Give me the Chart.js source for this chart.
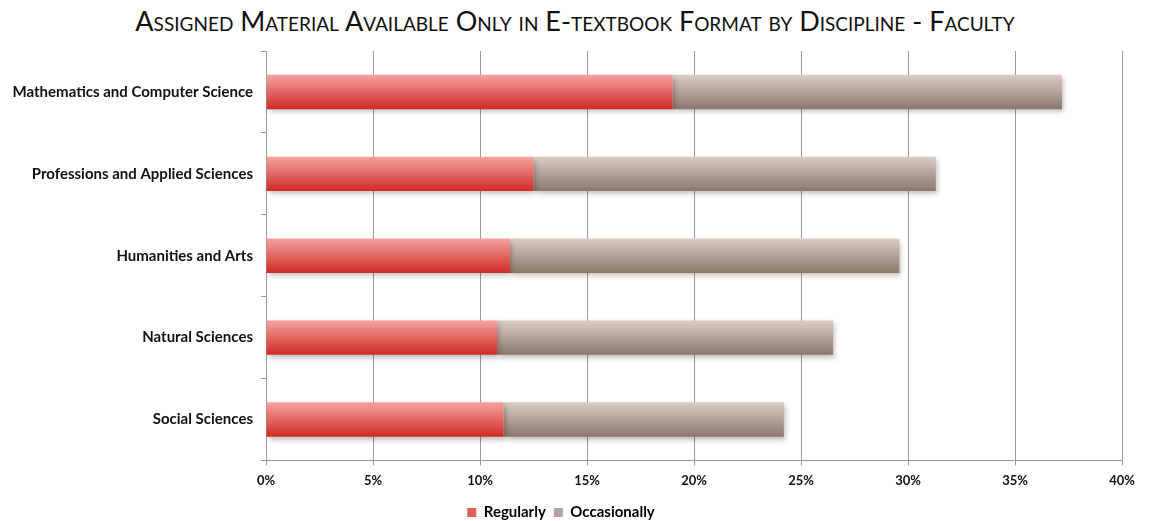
<!DOCTYPE html>
<html>
<head>
<meta charset="utf-8">
<script src="https://cdn.jsdelivr.net/npm/chart.js@4.4.1/dist/chart.umd.min.js"></script>
<style>
  html, body { margin: 0; padding: 0; background: #fff; }
  #wrap { position: relative; width: 1150px; height: 521px; overflow: hidden; }
  #titulo {
    position: absolute; left: 0; top: 4px; width: 1150px; text-align: center;
    font-family: Lato, sans-serif; font-variant: small-caps; font-size: 27px;
    color: #111; letter-spacing: 0px;
  }
  canvas { position: absolute; left: 0; top: 0; }
</style>
</head>
<body>
<div id="wrap">
  <div id="titulo">Assigned Material Available Only in E-textbook Format by Discipline - Faculty</div>
  <canvas id="chart" width="1150" height="521"></canvas>
</div>
<script>
const categorias = [
  'Mathematics and Computer Science',
  'Professions and Applied Sciences',
  'Humanities and Arts',
  'Natural Sciences',
  'Social Sciences'
];
const regularmente = [19.0, 12.5, 11.4, 10.8, 11.1];
const ocasionalmente = [18.2, 18.8, 18.2, 15.7, 13.1];
const ticksX = [0, 5, 10, 15, 20, 25, 30, 35, 40];

const fuente = 'Lato, sans-serif';

function degradado(arriba, abajo) {
  return (c) => {
    const chart = c.chart;
    const y = chart.scales.y;
    if (!y || !chart.chartArea) return abajo;
    const centro = y.getPixelForValue(c.dataIndex);
    const alto = (y.height / categorias.length) * 0.42;
    const g = chart.ctx.createLinearGradient(0, centro - alto / 2, 0, centro + alto / 2);
    g.addColorStop(0, arriba);
    g.addColorStop(1, abajo);
    return g;
  };
}

const sombra = {
  id: 'sombra',
  beforeDatasetsDraw(chart) {
    const ctx = chart.ctx;
    ctx.save();
    ctx.shadowColor = 'rgba(0,0,0,0.25)';
    ctx.shadowBlur = 5;
    ctx.shadowOffsetX = 2;
    ctx.shadowOffsetY = 3;
  },
  afterDatasetsDraw(chart) {
    chart.ctx.restore();
  }
};

new Chart(document.getElementById('chart'), {
  type: 'bar',
  data: {
    labels: categorias,
    datasets: [
      {
        label: 'Regularly',
        data: regularmente,
        backgroundColor: degradado('#f5a3a1', '#d02a24'),
        categoryPercentage: 1,
        barPercentage: 0.42
      },
      {
        label: 'Occasionally',
        data: ocasionalmente,
        backgroundColor: degradado('#dacdc7', '#8c776b'),
        categoryPercentage: 1,
        barPercentage: 0.42
      }
    ]
  },
  options: {
    indexAxis: 'y',
    responsive: false,
    animation: false,
    layout: { padding: { top: 51, right: 28, left: 0, bottom: -9 } },
    scales: {
      x: {
        stacked: true,
        min: 0,
        max: 40,
        afterBuildTicks: (s) => { s.ticks = ticksX.map((v) => ({ value: v })); },
        ticks: {
          callback: (v) => v + '%',
          color: '#111',
          font: { family: fuente, size: 13, weight: 'bold' },
          padding: 8
        },
        grid: { color: '#9a9a9a', lineWidth: 1, tickLength: 5 },
        border: { color: '#9a9a9a' }
      },
      y: {
        stacked: true,
        afterFit: (s) => { s.width = 266; },
        ticks: {
          color: '#111',
          font: { family: fuente, size: 15, weight: 'bold' },
          padding: 8
        },
        grid: { drawOnChartArea: false, color: '#9a9a9a', tickLength: 5 },
        border: { color: '#9a9a9a' }
      }
    },
    plugins: {
      legend: {
        position: 'bottom',
        labels: {
          boxWidth: 9,
          boxHeight: 9,
          color: '#111',
          font: { family: fuente, size: 15, weight: 'bold' },
          padding: 8,
          generateLabels: (chart) => chart.data.datasets.map((d, i) => ({
            text: d.label,
            fillStyle: i === 0 ? '#e0605a' : '#b3a39b',
            strokeStyle: 'rgba(0,0,0,0)',
            lineWidth: 0,
            datasetIndex: i
          }))
        }
      },
      tooltip: { enabled: false }
    }
  },
  plugins: [sombra]
});
</script>
</body>
</html>
